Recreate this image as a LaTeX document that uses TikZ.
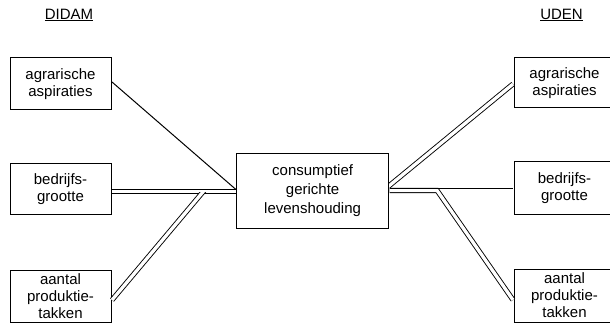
\documentclass[tikz,border=0pt]{standalone}
\usepackage{fontspec}
\setmainfont{Liberation Sans}
\usetikzlibrary{calc}
\begin{document}
\begin{tikzpicture}[x=1pt,y=-1pt,
  box/.style={draw, line width=1pt, minimum width=101pt, inner sep=0pt, align=center, font=\fontsize{15}{17}\selectfont},
  ln/.style={line width=1pt},
  dbl/.style={double, line width=0.9pt, double distance=3.3pt},
  head/.style={inner sep=0pt, font=\fontsize{15}{17}\selectfont}
]
\clip (0,0) rectangle (610,323);
% boxes
\node[box, minimum height=52pt] (agrL) at (60.5,84) {agrarische\\aspiraties};
\node[box, minimum height=50pt] (bedL) at (60.5,189) {bedrijfs-\\grootte};
\node[box, minimum height=52pt] (aanL) at (60.5,296) {aantal\\produktie-\\takken};
\node[box, minimum height=50pt] (agrR) at (564.5,83) {agrarische\\aspiraties};
\node[box, minimum height=52pt] (bedR) at (564.5,188) {bedrijfs-\\grootte};
\node[box, minimum height=53pt] (aanR) at (564.5,295.5) {aantal\\produktie-\\takken};
\node[box, minimum width=152pt, minimum height=74pt, font=\fontsize{15}{19}\selectfont] (cen) at (312.6,191) {consumptief\\gerichte\\levenshouding};
% headings
\node[head] (didam) at (69,15) {\underline{DIDAM}};
\node[head] (uden) at (561.5,15) {\underline{UDEN}};
% left connectors
\coordinate (agrLo) at ($(agrL.east)+(0.5,-2)$);
\coordinate (cenLtop) at ($(cen.west)+(-0.5,-1.8)$);
\coordinate (bedLo) at ($(bedL.east)+(0.5,2.3)$);
\coordinate (cenLmid) at ($(cen.west)+(-0.5,0.3)$);
\coordinate (aanLo) at ($(aanL.east)+(0.5,4)$);
\coordinate (JL) at ($(bedLo)!0.74!(cenLmid)$);
\draw[ln] (agrLo) -- (cenLtop);
\draw[dbl] (bedLo) -- (cenLmid);
\begin{scope}
  \clip (0,193.0) rectangle (610,323);
  \draw[dbl] (aanLo) -- ($(aanLo)!1.06!(JL)$);
\end{scope}
% right connectors
\coordinate (cenRmid) at ($(cen.east)+(0.5,-0.5)$);
\coordinate (BR) at ($(cen.east)+(48,-0.5)$);
\coordinate (aanRo) at ($(aanR.west)+(-0.5,4.5)$);
\coordinate (cenRtop) at ($(cen.east)+(0.5,-2.6)$);
\coordinate (bedRo) at ($(bedR.west)+(-0.5,0.4)$);
\coordinate (agrRo) at ($(agrR.west)+(-0.5,1)$);
\coordinate (cenRx) at ($(cen.east)+(0,-5.2)$);
\draw[dbl] (cenRmid) -- (BR) -- (aanRo);
\draw[ln] (cenRtop) -- (bedRo);
\begin{scope}
  \clip (389.2,0) rectangle (610,187.9);
  \draw[dbl] (agrRo) -- ($(agrRo)!1.1!(cenRx)$);
\end{scope}
\end{tikzpicture}
\end{document}
